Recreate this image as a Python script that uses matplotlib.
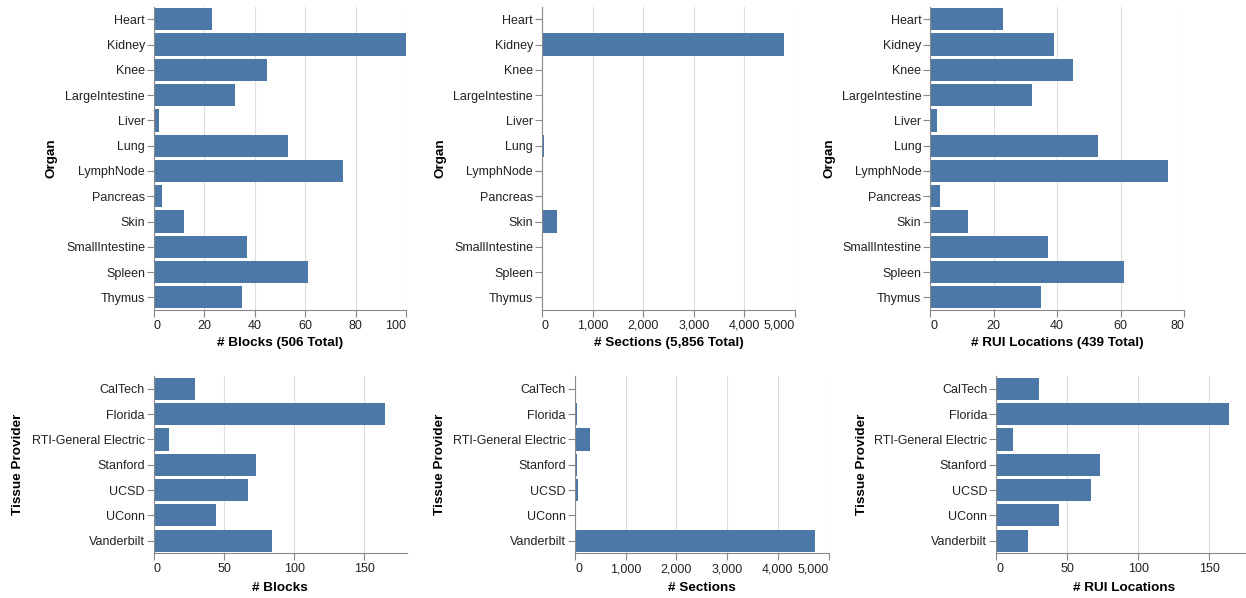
import matplotlib
matplotlib.use("Agg")
import matplotlib.pyplot as plt

plt.rcParams["font.family"] = ["Liberation Sans", "DejaVu Sans"]

# ---------------- data ----------------
organs = ["Heart", "Kidney", "Knee", "LargeIntestine", "Liver", "Lung",
          "LymphNode", "Pancreas", "Skin", "SmallIntestine", "Spleen", "Thymus"]
organ_blocks = [23, 128, 45, 32, 2, 53, 75, 3, 12, 37, 61, 35]
organ_sections = [5, 4790, 0, 20, 0, 40, 10, 0, 290, 20, 10, 5]
organ_rui = [23, 39, 45, 32, 2, 53, 75, 3, 12, 37, 61, 35]

providers = ["CalTech", "Florida", "RTI-General Electric", "Stanford",
             "UCSD", "UConn", "Vanderbilt"]
provider_blocks = [29, 165, 11, 73, 67, 44, 84]
provider_sections = [10, 30, 290, 45, 65, 2, 4740]
provider_rui = [30, 164, 12, 73, 67, 44, 22]

blocks_ticks = [0, 20, 40, 60, 80, 100]
sections_ticks = [0, 1000, 2000, 3000, 4000, 5000]
rui_ticks = [0, 20, 40, 60, 80]
provider_ticks = [0, 50, 100, 150]

BAR = "#4c78a8"
GRID = "#dddddd"
AXIS = "#888888"
LABEL = "#222222"

W, H = 1246, 598
fig = plt.figure(figsize=(W / 100, H / 100), dpi=100)


def bar_panel(box, cats, vals, ticks, xmax, xtitle, ytitle, xtitle_y, ytitle_x):
    l, r, t, b = box
    ax = fig.add_axes([l / W, 1 - b / H, (r - l) / W, (b - t) / H])
    y = list(range(len(cats)))
    ax.barh(y, vals, height=0.88, color=BAR, zorder=2)
    ax.set_ylim(len(cats) - 0.5, -0.5)
    ax.set_xlim(0, xmax)

    ax.set_yticks(y, cats)
    ax.set_xticks(ticks, [f"{v:,}" for v in ticks])
    # first label flush left, label at the domain end flush right
    labels = ax.get_xticklabels()
    labels[0].set_horizontalalignment("left")
    if ticks[-1] == xmax:
        labels[-1].set_horizontalalignment("right")

    ax.tick_params(axis="both", length=5, width=0.8, color=AXIS,
                   labelsize=9, labelcolor=LABEL)
    ax.tick_params(axis="y", pad=1.5)
    ax.tick_params(axis="x", pad=2)

    ax.grid(axis="x", color=GRID, linewidth=0.8)
    ax.set_axisbelow(True)
    for s in ("top", "right"):
        ax.spines[s].set_visible(False)
    for s in ("left", "bottom"):
        ax.spines[s].set_color(AXIS)
        ax.spines[s].set_linewidth(0.8)
        ax.spines[s].set_zorder(3)

    ax.set_xlabel(xtitle, fontsize=9.7, fontweight="bold", va="center")
    ax.set_ylabel(ytitle, fontsize=9.7, fontweight="bold", va="center")
    ax.xaxis.set_label_coords(0.5, (b - xtitle_y) / (b - t))
    ax.yaxis.set_label_coords((ytitle_x - l) / (r - l), 0.5)
    return ax


top = (6.7, 310)
bot = (376.2, 553.3)

bar_panel((154, 406, *top), organs, organ_blocks, blocks_ticks, 100,
          "# Blocks (506 Total)", "Organ", 343, 52)
bar_panel((542, 795, *top), organs, organ_sections, sections_ticks, 5000,
          "# Sections (5,856 Total)", "Organ", 343, 440.7)
bar_panel((930.3, 1184, *top), organs, organ_rui, rui_ticks, 80,
          "# RUI Locations (439 Total)", "Organ", 343, 829)

bar_panel((154, 406.5, *bot), providers, provider_blocks, provider_ticks, 180,
          "# Blocks", "Tissue Provider", 587.7, 18.3)
bar_panel((575, 828.5, *bot), providers, provider_sections, sections_ticks, 5000,
          "# Sections", "Tissue Provider", 587.7, 440)
bar_panel((996.3, 1252, *bot), providers, provider_rui, provider_ticks, 180,
          "# RUI Locations", "Tissue Provider", 587.7, 862.3)

fig.savefig("out.png", dpi=100)
